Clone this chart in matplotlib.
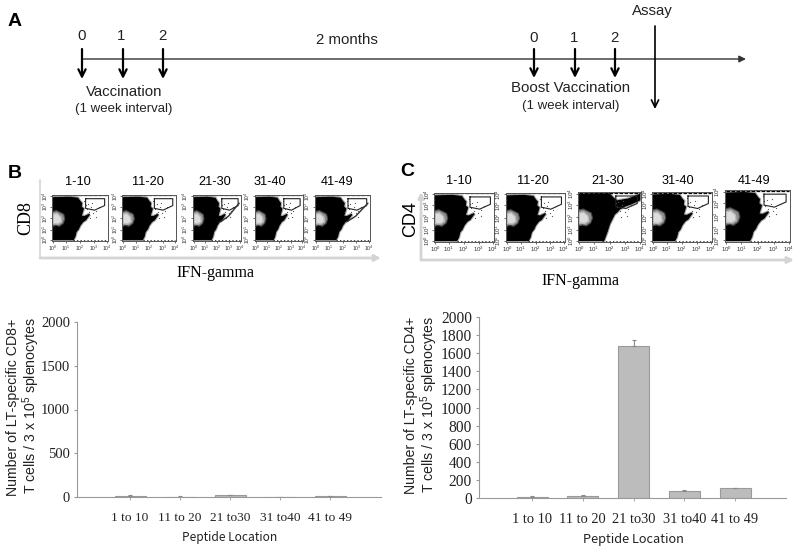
# plot.py
"""
Vaccination timeline, flow cytometry panels and peptide bar charts
"""

import matplotlib
matplotlib.use("Agg")
import matplotlib.pyplot as plt
from matplotlib.patches import Polygon

W, H = 800, 557
SANS = "Liberation Sans"
SERIF = "Liberation Serif"
GOTHIC = "Noto Sans CJK KR"
DARK = "#222222"
SOFT = "#d4d4d4"

# Bar chart data
peptide_labels = ["1 to 10", "11 to 20", "21 to30", "31 to40", "41 to 49"]
cd8_values = [15, 5, 20, 2, 8]
cd8_errors = [5, 3, 6, 2, 3]
cd4_values = [15, 25, 1675, 80, 105]
cd4_errors = [4, 4, 75, 5, 8]
cd8_ticks = [0, 500, 1000, 1500, 2000]
cd4_ticks = [0, 200, 400, 600, 800, 1000, 1200, 1400, 1600, 1800, 2000]

# Flow panels: labels and pixel boxes (left, top, right, bottom)
flow_labels = ["1-10", "11-20", "21-30", "31-40", "41-49"]
cd8_boxes = [(52, 195, 108, 241), (122, 195, 176, 241), (193, 195, 241, 241),
             (255, 195, 303, 241), (315, 195, 370, 241)]
cd4_boxes = [(434, 193, 494, 242), (506, 193, 565, 242), (578, 192, 641, 242),
             (652, 192, 712, 242), (725, 190, 790, 242)]
cd8_label_x = [78, 148, 215, 270, 337]
cd4_label_x = [459, 533, 608, 678, 754]

# Flow cell cloud outlines, panel fractions
cloud_x = [0.02, 0.30, 0.46, 0.50, 0.53, 0.52, 0.56, 0.54, 0.52, 0.58, 0.67, 0.60, 0.55,
           0.50, 0.47, 0.43, 0.41, 0.38, 0.02]
cloud_y = [0.94, 0.95, 0.93, 0.86, 0.82, 0.74, 0.70, 0.62, 0.54, 0.53, 0.58, 0.46, 0.42,
           0.34, 0.26, 0.20, 0.10, 0.03, 0.03]
cloud_c3_x = [0.02, 0.30, 0.50, 0.56, 0.62, 0.80, 0.98, 0.98, 0.84, 0.75, 0.66, 0.62, 0.58,
              0.54, 0.50, 0.46, 0.41, 0.02]
cloud_c3_y = [0.95, 0.96, 0.96, 0.88, 0.82, 0.86, 0.95, 0.84, 0.76, 0.72, 0.66, 0.60, 0.56,
              0.46, 0.36, 0.20, 0.03, 0.03]
hole_x = [0.01, 0.08, 0.15, 0.21, 0.23, 0.20, 0.13, 0.07, 0.01]
hole_y = [0.64, 0.66, 0.62, 0.58, 0.48, 0.38, 0.32, 0.34, 0.32]
core_x = [0.02, 0.09, 0.16, 0.17, 0.11, 0.02]
core_y = [0.58, 0.60, 0.52, 0.42, 0.37, 0.38]
gate_x = [0.60, 0.94, 0.94, 0.76, 0.60, 0.60]
gate_y = [0.92, 0.92, 0.77, 0.67, 0.71, 0.92]
streak_x = [0.58, 0.74, 0.96]
streak_y = [0.42, 0.54, 0.82]
fleck_x = [0.62, 0.66, 0.70, 0.74, 0.79, 0.84, 0.68, 0.72, 0.64, 0.78, 0.58, 0.60]
fleck_y = [0.70, 0.63, 0.74, 0.60, 0.66, 0.74, 0.50, 0.82, 0.80, 0.53, 0.88, 0.78]
power_labels = ["10$^0$", "10$^1$", "10$^2$", "10$^3$", "10$^4$"]

plt.rcParams["mathtext.default"] = "regular"
fig = plt.figure(figsize=(W / 100, H / 100), dpi=100)


def px_axes(left, top, right, bottom):
    return fig.add_axes([left / W, 1 - bottom / H, (right - left) / W, (bottom - top) / H])


# Overlay in pixel coordinates for the timeline and free text
ov = fig.add_axes([0, 0, 1, 1])
ov.set_xlim(0, W)
ov.set_ylim(H, 0)
ov.axis("off")


def label(x, y, s, size=10.8, family=SANS, **kw):
    kw.setdefault("color", DARK)
    ov.text(x, y, s, fontsize=size, family=family, ha="center", va="center", **kw)


def arrow(x0, y0, x1, y1, color="black", lw=1.6, style="->", scale=13):
    ov.annotate("", xy=(x1, y1), xytext=(x0, y0),
                arrowprops=dict(arrowstyle=style, color=color, lw=lw, mutation_scale=scale,
                                shrinkA=0, shrinkB=0))


# ---- Panel A ----
arrow(82, 59, 746, 59, color="#333333", lw=1.0, style="-|>", scale=10)
for n, x, tx in zip([0, 1, 2], [82, 123, 163], [82, 121, 162]):
    arrow(x, 49, x, 79)
    label(tx, 36, str(n))
for n, x, tx in zip([0, 1, 2], [534, 575, 615], [534, 574, 614]):
    arrow(x, 49, x, 78)
    label(tx, 38, str(n))
arrow(655, 26, 655, 109, lw=1.2)
label(347, 40, "2 months")
label(124, 92, "Vaccination")
label(124, 109, "(1 week interval)", size=9.5)
label(571, 88, "Boost Vaccination")
label(571, 106, "(1 week interval)", size=9.5)
label(652, 11, "Assay")
label(15, 22, "A", size=14, weight="bold", color="black")
label(15, 173, "B", size=14, weight="bold", color="black")
label(407, 172, "C", size=14, weight="bold", color="black")


# ---- Flow panels ----
def flow_panel(box, cx, cy, streak, tick_size):
    ax = px_axes(*box)
    ax.set_xlim(0, 1)
    ax.set_ylim(0, 1)
    cloud = list(zip(cx, cy))
    ax.add_patch(Polygon(cloud, closed=True, fc="none", ec="black", lw=2.4, alpha=0.35))
    ax.add_patch(Polygon(cloud, closed=True, fc="black", ec="black", lw=0.8))
    ax.add_patch(Polygon(list(zip(hole_x, hole_y)), closed=True, fc="#8c8c8c", ec="#444444", lw=0.8))
    ax.add_patch(Polygon(list(zip(core_x, core_y)), closed=True, fc="#dddddd", ec="#bbbbbb", lw=1.0))
    ax.scatter(fleck_x, fleck_y, s=0.8, color="#555555", linewidths=0)
    ax.plot(gate_x, gate_y, color=DARK, lw=0.8)
    ax.plot([0.02, 0.98], [0.99, 0.99], color="black", lw=0.9, ls=(0, (3, 1)))
    ax.plot([0.38, 0.98], [0.02, 0.02], color="black", lw=0.5, ls=(0, (2, 3)))
    if streak:
        ax.plot(streak_x, streak_y, color="#333333", lw=1.0)
    ax.set_xticks([0.02, 0.25, 0.5, 0.75, 0.98], power_labels)
    ax.set_yticks([0.03, 0.25, 0.5, 0.75, 0.97], power_labels, rotation=90, va="center")
    ax.tick_params(labelsize=tick_size, length=1.2, width=0.5, pad=0.6, colors="#333333")
    for spine in ax.spines.values():
        spine.set_linewidth(0.7)
        spine.set_color("#555555")
    for tick in ax.get_xticklabels() + ax.get_yticklabels():
        tick.set_family(SANS)


for i, box in enumerate(cd8_boxes):
    flow_panel(box, cloud_x, cloud_y, i in (2, 4), 3.6)
    label(cd8_label_x[i], 182, flow_labels[i], size=9.2, color="black")
for i, box in enumerate(cd4_boxes):
    cx, cy = (cloud_c3_x, cloud_c3_y) if i == 2 else (cloud_x, cloud_y)
    flow_panel(box, cx, cy, False, 4.4)
    label(cd4_label_x[i], 181, flow_labels[i], size=9.2, color="black")

# Light grey arrows along the flow panels
arrow(40, 258, 381, 258, color=SOFT, lw=2.0, style="-|>", scale=9)
arrow(40, 258, 40, 180, color=SOFT, lw=1.2, style="-", scale=5)
arrow(421, 260, 794, 260, color=SOFT, lw=2.0, style="-|>", scale=9)
arrow(421, 260, 421, 192, color=SOFT, lw=2.0, style="-|>", scale=8)
label(26, 218, "CD8", size=13, family=SERIF, rotation=90, color="black")
label(411, 219, "CD4", size=13, family=SANS, rotation=90, color="black")
label(215, 273, "IFN-gamma", size=11.5, family=SERIF, color="black")
label(580, 281, "IFN-gamma", size=11.5, family=SERIF, color="black")


# ---- Bar charts ----
def bar_chart(box, values, errors, ticks, x0, step, tick_size, cat_size):
    left, top, right, bottom = box
    ax = px_axes(left, top, right, bottom)
    xs = list(range(len(values)))
    ax.bar(xs, values, width=31 / step, color="#bcbcbc", edgecolor="#9a9a9a", linewidth=0.8)
    ax.errorbar(xs, values, yerr=[[0] * len(errors), errors], fmt="none",
                ecolor="#8a8a8a", elinewidth=0.8, capsize=1.5, capthick=0.8)
    ax.set_xlim((left - x0) / step, (right - x0) / step)
    ax.set_ylim(0, 2000)
    ax.set_xticks(xs, peptide_labels)
    ax.set_yticks(ticks)
    ax.tick_params(axis="y", length=2.5, width=0.8, color="#999999", pad=2.5, labelsize=tick_size)
    ax.tick_params(axis="x", length=2, width=0.6, color="#999999", pad=8.5, labelsize=cat_size)
    for t in ax.get_xticklabels() + ax.get_yticklabels():
        t.set_family(SERIF)
        t.set_color(DARK)
    ax.spines["top"].set_visible(False)
    ax.spines["right"].set_visible(False)
    ax.spines["left"].set_color("#999999")
    ax.spines["bottom"].set_color("#999999")
    ax.patch.set_alpha(0)


bar_chart((77, 322, 381, 497), cd8_values, cd8_errors, cd8_ticks, 130, 50, 10.5, 9.6)
bar_chart((479, 317, 786, 498), cd4_values, cd4_errors, cd4_ticks, 532, 50.75, 11.2, 10.4)

label(13, 407, "Number of LT-specific CD8+", size=10.2, rotation=90)
label(31, 405, "T cells / 3 x 10$^5$ splenocytes", size=10.2, rotation=90)
label(411, 405, "Number of LT-specific CD4+", size=10.2, rotation=90)
label(429, 404, "T cells / 3 x 10$^5$ splenocytes", size=10.2, rotation=90)
label(230, 538, "Peptide Location", size=8.6, family=GOTHIC)
label(633, 540, "Peptide Location", size=9.2, family=GOTHIC)

fig.savefig("out.png", dpi=100)
